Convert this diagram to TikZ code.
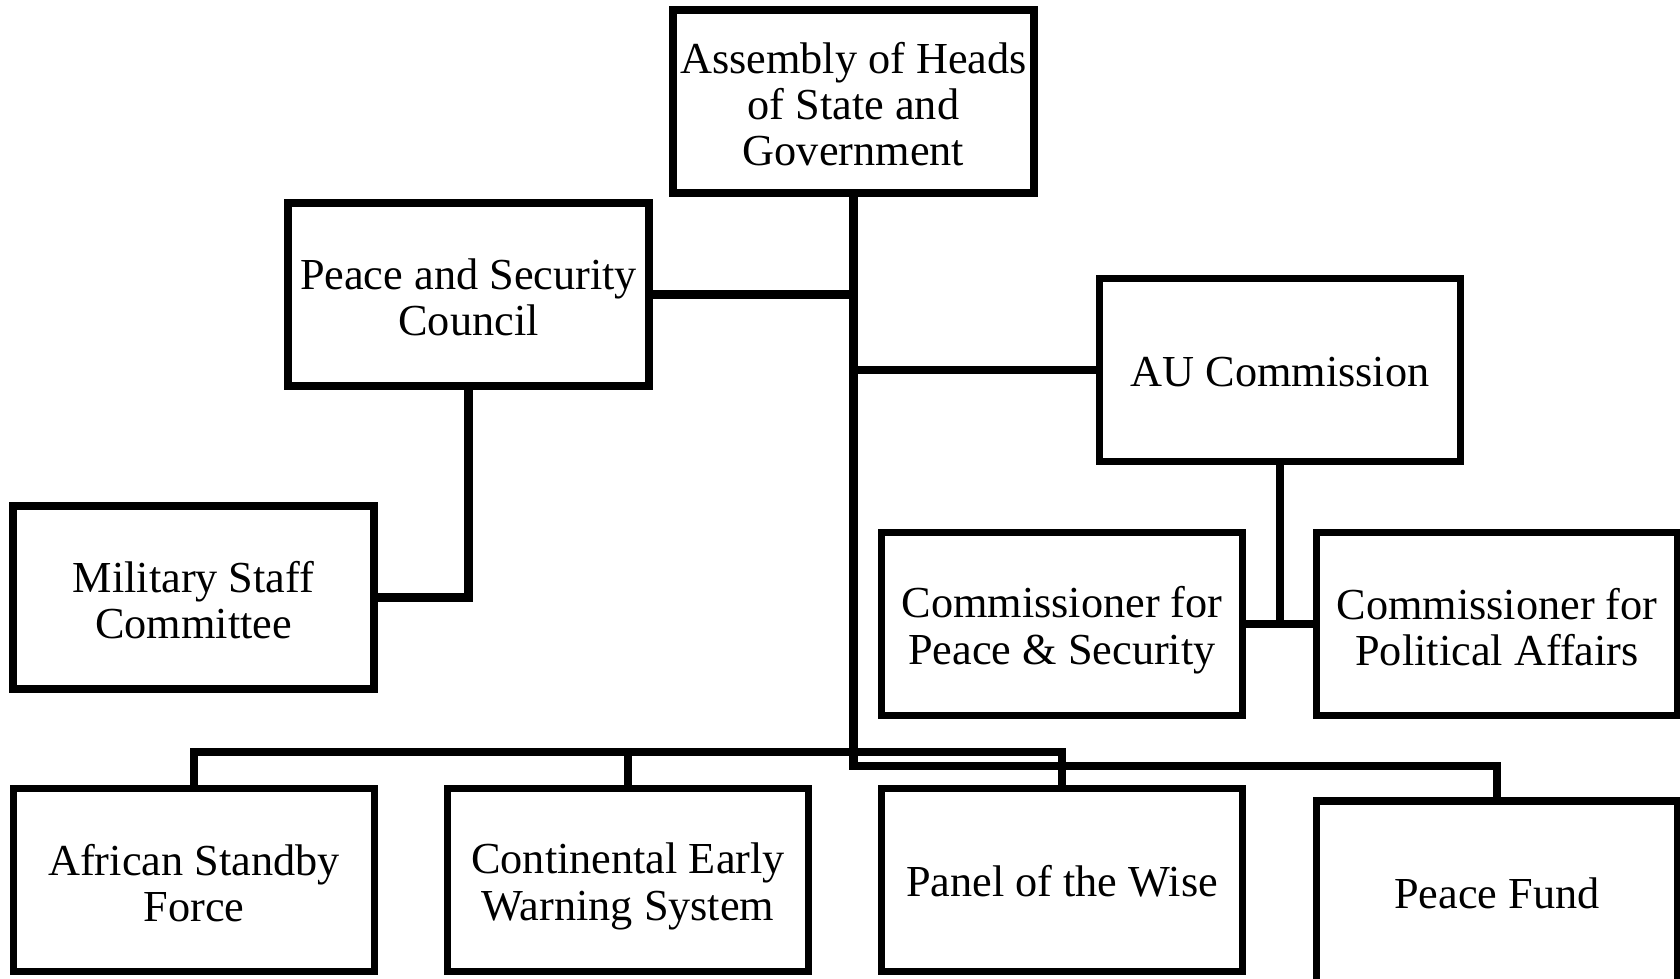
\documentclass[tikz,border=0pt]{standalone}
\usepackage{fontspec}
\setmainfont{Liberation Serif}
\usetikzlibrary{positioning}
\newcommand\boxstrut{\rule[-1.95pt]{0pt}{13.1pt}}
\newcommand\topstrut{\rule{0pt}{12.4pt}}

\begin{document}
\begin{tikzpicture}[
    font=\fontsize{12.6}{13.1}\selectfont,
    box/.style={draw=black,line width=2.2pt,fill=white,align=center,
        minimum width=3.61cm,minimum height=1.83cm,inner sep=2pt,
        execute at begin node=\boxstrut,execute at end node=\boxstrut},
    link/.style={draw=black,line width=2.4pt}]

    % Page frame
    \useasboundingbox (0,0) rectangle (16.8,9.79);

    % Top level
    \node [box] (asm) at (8.535,8.775) {\topstrut Assembly of Heads\\of State and\\Government};

    % Second level
    \node [box] (psc) at (4.685,6.845) {\topstrut Peace and Security\\Council};
    \node [box] (auc) at (12.80,6.09) {AU Commission};

    % Third level
    \node [box] (msc) at (1.935,3.815) {\topstrut Military Staff\\Committee};
    \node [box] (cps) at (10.62,3.55) {\topstrut Commissioner for\\Peace \& Security};
    \node [box] (cpa) at (14.97,3.55) {\topstrut Commissioner for\\Political Affairs};

    % Bottom row
    \node [box] (asf) at (1.94,0.99) {\topstrut African Standby\\Force};
    \node [box] (cew) at (6.28,0.99) {\topstrut Continental Early\\Warning System};
    \node [box] (pow) at (10.62,0.99) {Panel of the Wise};
    \node [box] (pfd) at (14.97,0.865) {Peace Fund};

    % Bus levels
    \coordinate (busA) at (0,2.27);
    \coordinate (busB) at (0,2.13);

    % Trunk
    \draw [link] (asm.south) -- (asm.south |- busB) -| (pfd.north);
    \draw [link] (psc.east) -- (psc.east -| asm.south);
    \draw [link] (auc.west) -- (auc.west -| asm.south);

    % Council branch
    \draw [link] (psc.south) |- (msc.east);

    % Commission branch
    \draw [link] (auc.south) -- (auc.south |- cps.east);
    \draw [link] (cps.east) -- (cpa.west);

    % Bottom bus
    \draw [link] (asf.north) -- (asf.north |- busA) -| (pow.north);
    \draw [link] (cew.north) -- (cew.north |- busA);

\end{tikzpicture}
\end{document}
